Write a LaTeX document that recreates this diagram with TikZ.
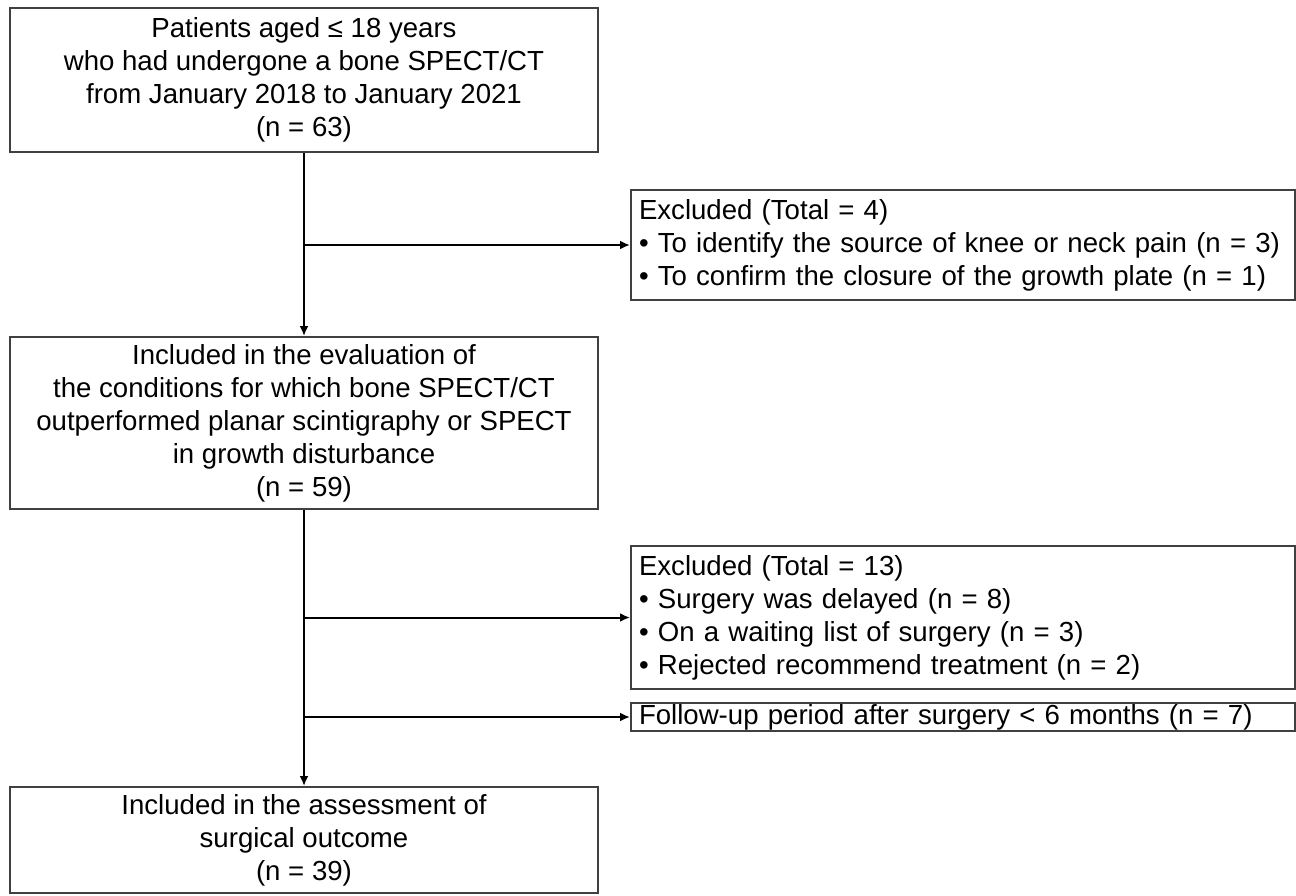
\documentclass[tikz,border=0pt]{standalone}
\usepackage{fontspec}
\setmainfont{Liberation Sans}
\usetikzlibrary{arrows.meta}
\tikzset{
  flowbox/.style={draw=black!75, line width=1pt, minimum width=294pt, inner sep=0pt, align=center,
    font=\fontsize{13.8}{16.5}\selectfont},
  exclbox/.style={draw=black!75, line width=1pt, minimum width=332pt, inner xsep=4pt, inner ysep=0pt,
    text width=324pt, align=left, font=\fontsize{13.8}{16.5}\selectfont},
  flowarrow/.style={line width=1pt, -{Latex[length=5pt,width=4.5pt]}}
}
\begin{document}
\begin{tikzpicture}[x=0.5pt, y=-0.5pt]
  \useasboundingbox (0,0) rectangle (1296,895);
  \node[flowbox, minimum height=72pt] (patients) at (304,80)
    {Patients aged ≤ 18 years\\who had undergone a bone SPECT/CT\\from January 2018 to January 2021\\(n = 63)};
  \node[exclbox, minimum height=55pt] (excl1) at (963,245)
    {Excluded (Total = 4)\\• To identify the source of knee or neck pain (n = 3)\\• To confirm the closure of the growth plate (n = 1)};
  \node[flowbox, minimum height=86pt] (evaluation) at (304,423)
    {Included in the evaluation of\\the conditions for which bone SPECT/CT\\outperformed planar scintigraphy or SPECT\\in growth disturbance\\(n = 59)};
  \node[exclbox, minimum height=71.5pt] (excl2) at (963,617.5)
    {Excluded (Total = 13)\\• Surgery was delayed (n = 8)\\• On a waiting list of surgery (n = 3)\\• Rejected recommend treatment (n = 2)};
  \node[exclbox, minimum height=14pt] (excl3) at (963,717)
    {Follow-up period after surgery < 6 months (n = 7)};
  \node[flowbox, minimum height=53pt] (outcome) at (304,840)
    {Included in the assessment of\\surgical outcome\\(n = 39)};
  \draw[flowarrow] (patients) -- (evaluation);
  \draw[flowarrow] (patients.south |- excl1.west) -- (excl1.west);
  \draw[flowarrow] (evaluation) -- (outcome);
  \draw[flowarrow] (evaluation.south |- excl2.west) -- (excl2.west);
  \draw[flowarrow] (evaluation.south |- excl3.west) -- (excl3.west);
\end{tikzpicture}
\end{document}
